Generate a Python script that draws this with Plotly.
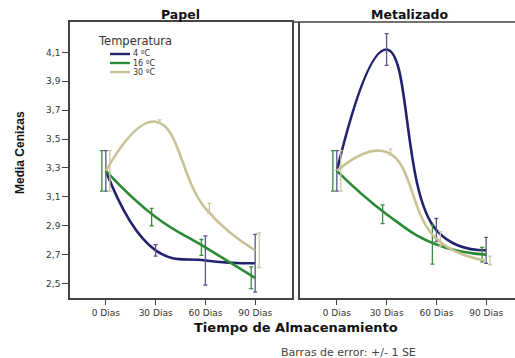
import plotly.graph_objects as go

dias = ["0 Dias", "30 Dias", "60 Dias", "90 Dias"]
temps = ["4 ºC", "16 ºC", "30 ºC"]

# media cenizas por envase y temperatura
papel_4 = [3.28, 2.73, 2.66, 2.64]
papel_16 = [3.28, 2.96, 2.75, 2.54]
papel_30 = [3.28, 3.62, 3.02, 2.73]
metal_4 = [3.28, 4.12, 2.87, 2.73]
metal_16 = [3.28, 2.98, 2.77, 2.70]
metal_30 = [3.28, 3.41, 2.81, 2.66]

# error estandar (+/- 1 SE)
papel_4_se = [0.14, 0.04, 0.17, 0.20]
papel_16_se = [0.14, 0.06, 0.055, 0.075]
papel_30_se = [0.14, 0.012, 0.035, 0.12]
metal_4_se = [0.14, 0.11, 0.08, 0.09]
metal_16_se = [0.14, 0.065, 0.135, 0.05]
metal_30_se = [0.14, 0.02, 0.05, 0.03]

yticks = [2.5, 2.7, 2.9, 3.1, 3.3, 3.5, 3.7, 3.9, 4.1]

colores = ["#22226e", "#2a8a36", "#c8c296"]
colores_err = ["#56568a", "#3a8c3e", "#cdc7a0"]
dx = [0.0, -0.08, 0.08]

fig = go.Figure()
idx = list(range(len(dias)))

paneles = [
    ("x", "y", [papel_4, papel_16, papel_30], [papel_4_se, papel_16_se, papel_30_se]),
    ("x2", "y2", [metal_4, metal_16, metal_30], [metal_4_se, metal_16_se, metal_30_se]),
]
for p, (xa, ya, series, ses) in enumerate(paneles):
    for i, (vals, se) in enumerate(zip(series, ses)):
        fig.add_trace(go.Scatter(
            x=idx, y=vals, mode="lines", name=temps[i], xaxis=xa, yaxis=ya,
            line=dict(color=colores[i], width=2.6, shape="spline", smoothing=1.3),
            showlegend=False))
        fig.add_trace(go.Scatter(
            x=[k + dx[i] for k in idx], y=vals, mode="markers", xaxis=xa, yaxis=ya,
            marker=dict(size=1, opacity=0), showlegend=False, hoverinfo="skip",
            error_y=dict(type="data", array=se, color=colores_err[i], thickness=1.3, width=2)))


def py(v):
    # pixel vertical -> coordenada paper (area de trazado de y=22 a y=298)
    return (298 - v) / 276


tickfont = dict(family="DejaVu Sans", size=9, color="#333")
ax = dict(showgrid=False, zeroline=False, showline=True, linecolor="#444", linewidth=1.5,
          ticks="outside", ticklen=5, tickcolor="#444", tickfont=tickfont,
          tickvals=idx, ticktext=dias)
fig.update_layout(
    width=515, height=358, plot_bgcolor="white", paper_bgcolor="white",
    margin=dict(l=0, r=0, t=22, b=60), separators=",.",
    xaxis=dict(ax, domain=[70 / 515, 292 / 515], range=[-0.72, 3.74], mirror=True),
    xaxis2=dict(ax, domain=[300 / 515, 1.0], range=[-0.74, 3.58], anchor="y2"),
    yaxis=dict(showgrid=False, zeroline=False, showline=True, linecolor="#444", linewidth=1.5,
               ticks="outside", ticklen=6, tickcolor="#444", tickfont=tickfont,
               range=[2.40, 4.31], tickvals=yticks, tickformat=".1f", mirror=True),
    yaxis2=dict(showgrid=False, zeroline=False, showline=True, linecolor="#444", linewidth=1.5,
                range=[2.40, 4.31], showticklabels=False, anchor="x2"),
    showlegend=False,
)
fig.add_shape(type="line", xref="paper", yref="paper", x0=292 / 515, x1=1, y0=1, y1=1,
              line=dict(color="#444", width=1.5))


def texto(t, x, y, size, family="DejaVu Sans", color="#333", xanchor="center", angle=0):
    fig.add_annotation(text=t, x=x / 515, y=py(y), xref="paper", yref="paper",
                       xanchor=xanchor, yanchor="middle", showarrow=False, textangle=angle,
                       font=dict(family=family, size=size, color=color))


# leyenda "Temperatura"
texto("Temperatura", 96, 41, 11.5, xanchor="left")
for i, t in enumerate(temps):
    yy = 54 + 9 * i
    fig.add_shape(type="line", xref="paper", yref="paper", x0=110 / 515, x1=130 / 515,
                  y0=py(yy), y1=py(yy), line=dict(color=colores[i], width=2.4))
    texto(t, 131, yy, 8, xanchor="left")

texto("<b>Papel</b>", 180, 14, 12.5, color="#111")
texto("<b>Metalizado</b>", 410, 14, 12.5, color="#111")
texto("<b>Media Cenizas</b>", 20, 153, 12, family="Liberation Sans Narrow, Liberation Sans",
      color="#111", angle=-90)
texto("<b>Tiempo de Almacenamiento</b>", 296, 327, 13, color="#111")
texto("Barras de error: +/- 1 SE", 348, 352, 11, color="#444")

fig.write_html("out.html", config={"displayModeBar": False},
               post_script="document.body.style.margin='0';")
